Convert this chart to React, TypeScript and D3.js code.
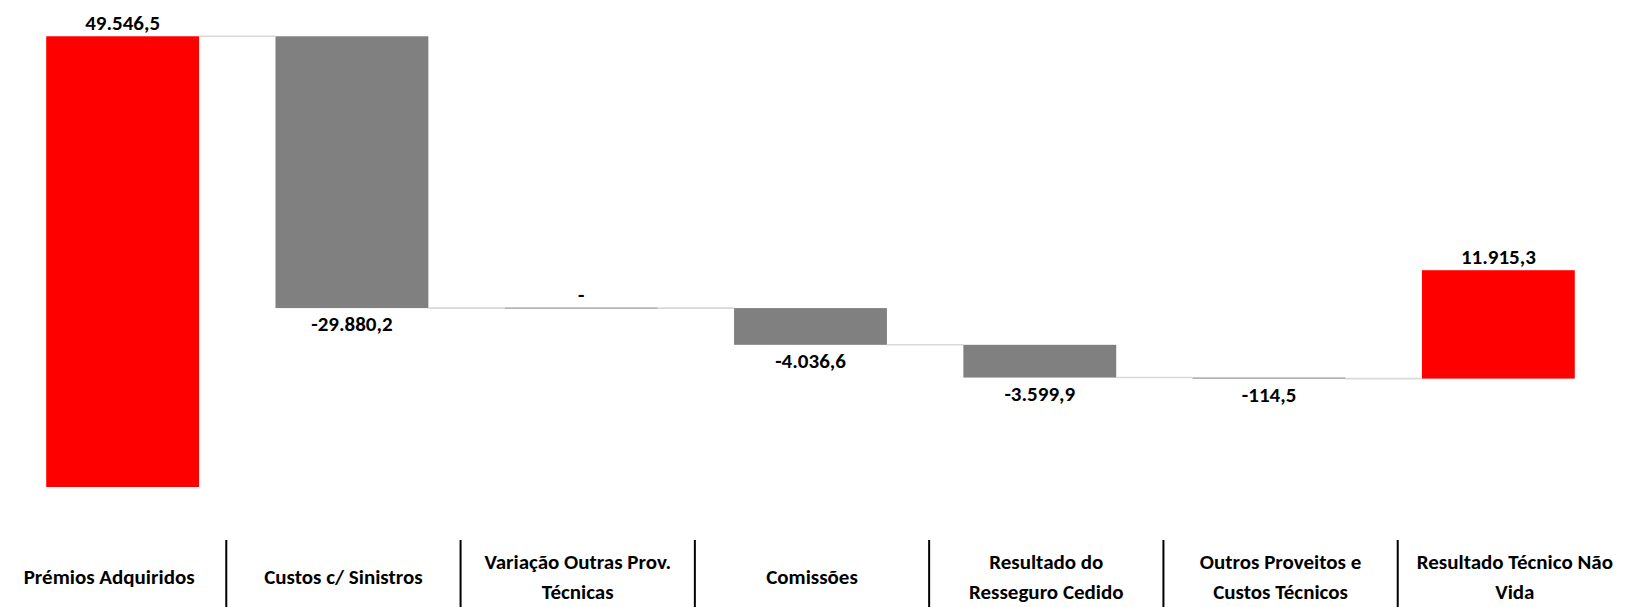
import React from "react";
import * as d3 from "d3";

const categories = [
  "Prémios Adquiridos",
  "Custos c/ Sinistros",
  "Variação Outras Prov. Técnicas",
  "Comissões",
  "Resultado do Resseguro Cedido",
  "Outros Proveitos e Custos Técnicos",
  "Resultado Técnico Não Vida",
];
const labelLines = [
  ["Prémios Adquiridos"],
  ["Custos c/ Sinistros"],
  ["Variação Outras Prov.", "Técnicas"],
  ["Comissões"],
  ["Resultado do", "Resseguro Cedido"],
  ["Outros Proveitos e", "Custos Técnicos"],
  ["Resultado Técnico Não", "Vida"],
];
const values = [49546.5, -29880.2, 0, -4036.6, -3599.9, -114.5, 11915.3];
const colors = ["#FF0000", "#808080", "#808080", "#808080", "#808080", "#808080", "#FF0000"];

const W = 1625;
const H = 607;
const FONT = "Calibri, Carlito, Lato, sans-serif";

const locale = d3.formatLocale({
  decimal: ",",
  thousands: ".",
  grouping: [3],
  currency: ["", "€"],
  minus: "-",
});
const fmt = locale.format(",.1f");

export default function App() {
  const x = d3.scaleBand<string>().domain(categories).range([8, 1613]).paddingInner(1 / 3).paddingOuter(1 / 6);
  const xl = d3.scaleBand<string>().domain(categories).range([-8, 1632]).padding(0);
  const y = d3.scaleLinear().domain([0, 50000]).range([487, 487 - 50000 * 0.009097]);

  let cum = 0;
  const bars = values.map((v, i) => {
    const base = cum;
    const end = cum + v;
    cum = end;
    return { cat: categories[i], v, base, end, color: colors[i] };
  });

  return (
    <svg width={W} height={H} style={{ position: "absolute", left: 0, top: 0 }} fontFamily={FONT}>
      {/* connectors */}
      {bars.slice(0, -1).map((b, i) => {
        const nb = bars[i + 1];
        const yy = y(b.end);
        return (
          <line
            key={"c" + i}
            x1={(x(b.cat) as number) + x.bandwidth()}
            x2={x(nb.cat) as number}
            y1={yy}
            y2={yy}
            stroke="#d9d9d9"
            strokeWidth={1.6}
          />
        );
      })}
      {/* bars */}
      {bars.map((b, i) => {
        const y0 = y(Math.max(b.base, b.end));
        const y1 = y(Math.min(b.base, b.end));
        const h = Math.max(1, y1 - y0);
        return (
          <rect
            key={"b" + i}
            x={x(b.cat) as number}
            y={y1 - y0 < 1 ? y0 - 0.5 : y0}
            width={x.bandwidth()}
            height={h}
            fill={b.color}
          />
        );
      })}
      {/* data labels */}
      {bars.map((b, i) => {
        const cx = (x(b.cat) as number) + x.bandwidth() / 2;
        const above = b.v >= 0;
        const yy = above ? y(Math.max(b.base, b.end)) - 6 : y(Math.min(b.base, b.end)) + 23;
        return (
          <text key={"l" + i} x={cx} y={yy} textAnchor="middle" fontWeight={700} fontSize={21} fill="#000">
            {b.v === 0 ? "-" : fmt(b.v)}
          </text>
        );
      })}
      {/* category table separators */}
      {categories.slice(1).map((c, i) => (
        <line key={"s" + i} x1={xl(c) as number} x2={xl(c) as number} y1={540} y2={H} stroke="#000" strokeWidth={2} />
      ))}
      {/* category labels */}
      {categories.map((c, i) => {
        const cx = (xl(c) as number) + xl.bandwidth() / 2;
        const lines = labelLines[i];
        const baselines = lines.length === 1 ? [584] : [569, 599];
        return (
          <text key={"t" + i} textAnchor="middle" fontWeight={700} fontSize={21} fill="#000">
            {lines.map((ln, j) => (
              <tspan key={j} x={cx} y={baselines[j]}>
                {ln}
              </tspan>
            ))}
          </text>
        );
      })}
    </svg>
  );
}
